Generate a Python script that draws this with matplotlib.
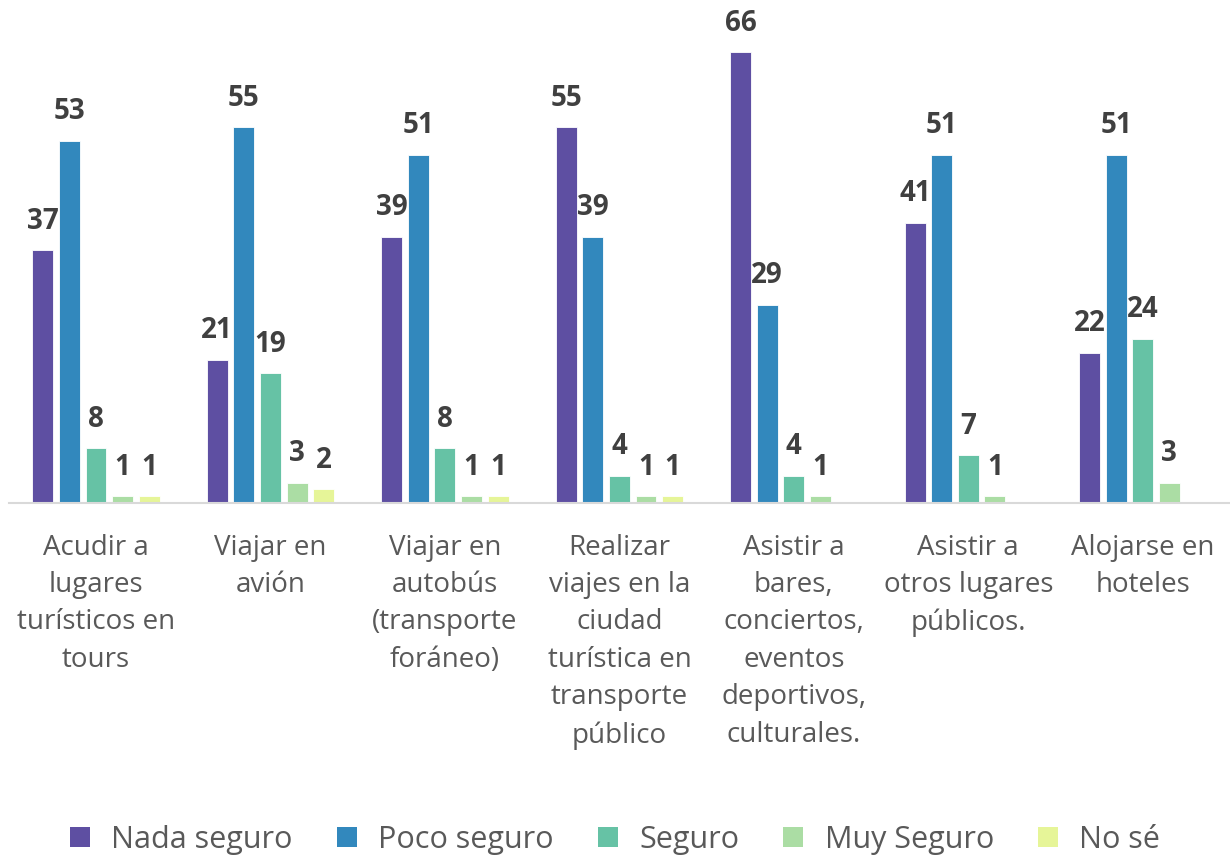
import numpy as np
import matplotlib
matplotlib.use("Agg")
import matplotlib.pyplot as plt
from matplotlib.patches import Patch

plt.rcParams['font.family'] = ['Open Sans', 'DejaVu Sans']

categories = [
    "Acudir a\nlugares\nturísticos en\ntours",
    "Viajar en\navión",
    "Viajar en\nautobús\n(transporte\nforáneo)",
    "Realizar\nviajes en la\nciudad\nturística en\ntransporte\npúblico",
    "Asistir a\nbares,\nconciertos,\neventos\ndeportivos,\nculturales.",
    "Asistir a\notros lugares\npúblicos.",
    "Alojarse en\nhoteles",
]
series_names = ["Nada seguro", "Poco seguro", "Seguro", "Muy Seguro", "No sé"]
nada_seguro = [37, 21, 39, 55, 66, 41, 22]
poco_seguro = [53, 55, 51, 39, 29, 51, 51]
seguro = [8, 19, 8, 4, 4, 7, 24]
muy_seguro = [1, 3, 1, 1, 1, 1, 3]
no_se = [1, 2, 1, 1, None, None, None]

colors = ["#5e4fa2", "#3288bd", "#66c2a5", "#abdda4", "#e6f598"]
series = [nada_seguro, poco_seguro, seguro, muy_seguro, no_se]

fig = plt.figure(figsize=(12.3, 8.61), dpi=100)
ax = fig.add_axes([8.75 / 1230, 358 / 861, (1230 - 8.75) / 1230, 478 / 861])

x = np.arange(len(categories))
step = 0.1525
width = 0.12
for i, (vals, col) in enumerate(zip(series, colors)):
    off = (i - 2) * step
    for xi, v in zip(x, vals):
        if v is None:
            continue
        ax.bar(xi + off, v, width=width, color=col, edgecolor='white', linewidth=0.6, zorder=2)
        ax.annotate(str(v), (xi + off, v), xytext=(0, 21), textcoords='offset points',
                    ha='center', va='center', fontsize=20, fontweight='bold',
                    color='#404040', annotation_clip=False)

ax.set_xlim(-0.5, len(categories) - 0.5)
ax.set_ylim(0, 70)
ax.set_yticks([])
for s in ['top', 'right', 'left']:
    ax.spines[s].set_visible(False)
ax.spines['bottom'].set_color('#d9d9d9')
ax.spines['bottom'].set_linewidth(1.5)
ax.set_xticks(x)
ax.set_xticklabels(categories, fontsize=20, color='#595959', linespacing=1.45, va='top')
ax.tick_params(axis='x', length=0, pad=22)

handles = [Patch(facecolor=c, edgecolor='none', label=n) for c, n in zip(colors, series_names)]
leg = fig.legend(handles=handles, loc='center', bbox_to_anchor=(0.5, 21 / 861), ncol=5,
                 frameon=False, fontsize=22, handlelength=0.65, handleheight=0.65,
                 handletextpad=0.7, columnspacing=1.45)
for t in leg.get_texts():
    t.set_color('#595959')

fig.savefig('out.png', dpi=100, facecolor='white')
